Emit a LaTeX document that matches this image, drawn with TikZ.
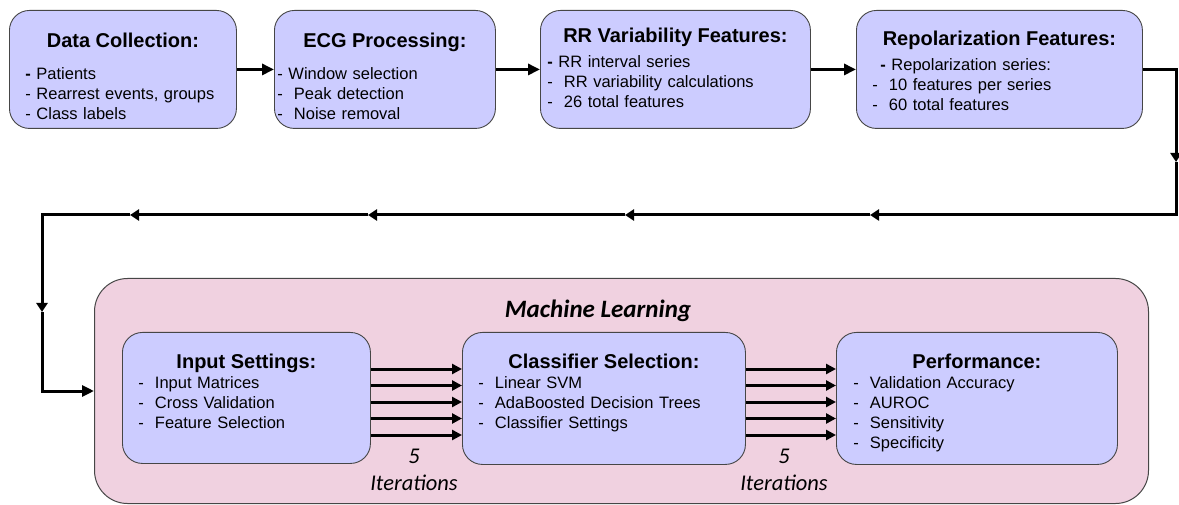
\documentclass[tikz,border=0pt]{standalone}
\usepackage{fontspec}
\setmainfont{Liberation Sans}
\newfontfamily\calibri{Carlito}
\usepackage{tikz}
\usetikzlibrary{arrows.meta,positioning}
\definecolor{boxblue}{RGB}{204,204,255}
\definecolor{mlpink}{RGB}{240,209,224}
\definecolor{edgegray}{RGB}{70,70,70}
\newcommand{\hd}[1]{\makebox[\linewidth]{\bfseries\fontsize{20}{24}\selectfont #1}}
\tikzset{>={Triangle[length=12pt,width=11pt]},
         stage/.style={draw=edgegray,line width=0.9pt,fill=boxblue,rounded corners=20pt,
                       anchor=north west,inner ysep=0pt,align=left,
                       font=\fontsize{16.5}{20}\selectfont},
         mlbox/.style={draw=edgegray,line width=1pt,fill=mlpink,rounded corners=33pt,
                       anchor=north west,inner sep=0pt,minimum width=1054pt,minimum height=225pt},
         flow/.style={line width=3pt,->},
         iflow/.style={line width=3pt,-{Triangle[length=10pt,width=10pt]}},
         link/.style={line width=3pt,-{Triangle[length=9pt,width=11pt]}},
         iter/.style={align=center,font=\calibri\itshape\fontsize{22.5}{27}\selectfont}}

\begin{document}
\begin{tikzpicture}[x=1pt,y=-1pt]
\useasboundingbox (0,0) rectangle (1179,505);
% top row
\node[stage,text width=195pt,inner xsep=16pt,text height=37pt,text depth=81pt] (dc) at (9,10)
  {\hd{Data Collection:}\\[12pt]\textbf{-} Patients\\- Rearrest events, groups\\- Class labels};
\node[stage,text width=215pt,inner xsep=3pt,text height=37pt,text depth=81pt] (ecg) at (274,10)
  {\hd{ECG Processing:}\\[12pt]- Window selection\\-~~Peak detection\\-~~Noise removal};
\node[stage,text width=256pt,inner xsep=7pt,text height=32pt,text depth=86pt] (rr) at (540,10)
  {\hd{RR Variability Features:}\\[5pt]\textbf{-} RR interval series\\-~~RR variability calculations\\-~~26 total features};
\node[stage,text width=254pt,inner xsep=16pt,text height=35pt,text depth=83pt] (rep) at (856,10)
  {\hd{Repolarization Features:}\\[5pt]\hspace*{8pt}\textbf{-} Repolarization series:\\-~~10 features per series\\-~~60 total features};
\draw[flow] (dc.east) -- (ecg.west);
\draw[flow] (ecg.east) -- (rr.west);
\draw[flow] (rr.east) -- (rep.west);

% machine learning block
\node[mlbox] (ml) at (94,278) {};
\node[font=\calibri\bfseries\itshape\fontsize{25}{30}\selectfont] (mltitle) at (598,311) {Machine Learning};
\node[stage,text width=216pt,inner xsep=16pt,text height=36pt,text depth=95pt] (inp) at (122,332)
  {\hd{Input Settings:}\\-~~Input Matrices\\-~~Cross Validation\\-~~Feature Selection};
\node[stage,text width=251pt,inner xsep=16pt,text height=36pt,text depth=96pt] (cls) at (462,332)
  {\hd{Classifier Selection:}\\-~~Linear SVM\\-~~AdaBoosted Decision Trees\\-~~Classifier Settings};
\node[stage,text width=247pt,inner xsep=17pt,text height=36pt,text depth=96pt] (perf) at (836,332)
  {\hd{Performance:}\\-~~Validation Accuracy\\-~~AUROC\\-~~Sensitivity\\-~~Specificity};
\foreach \y in {369,385.5,402,418.5,435}{
  \draw[iflow] (inp.east |- 0,\y) -- (cls.west |- 0,\y);
  \draw[iflow] (cls.east |- 0,\y) -- (perf.west |- 0,\y);
}
\node[iter] (it1) at (414,470) {5\\Iterations};
\node[iter] (it2) at (784,470) {5\\Iterations};

% feedback line into the ML block
\coordinate (a1) at (1176,162);
\coordinate (c2) at (1176,215);
\coordinate (a2) at (870,215);
\coordinate (a3) at (625,215);
\coordinate (a4) at (368,215);
\coordinate (a5) at (130,215);
\coordinate (a6) at (42,312);
\draw[link] (rep.east) -| (a1);
\draw[link] (a1) -- (c2) -- (a2);
\draw[link] (a2) -- (a3);
\draw[link] (a3) -- (a4);
\draw[link] (a4) -- (a5);
\draw[link] (a5) -| (a6);
\draw[flow] (a6) |- (ml.west);
\end{tikzpicture}
\end{document}
